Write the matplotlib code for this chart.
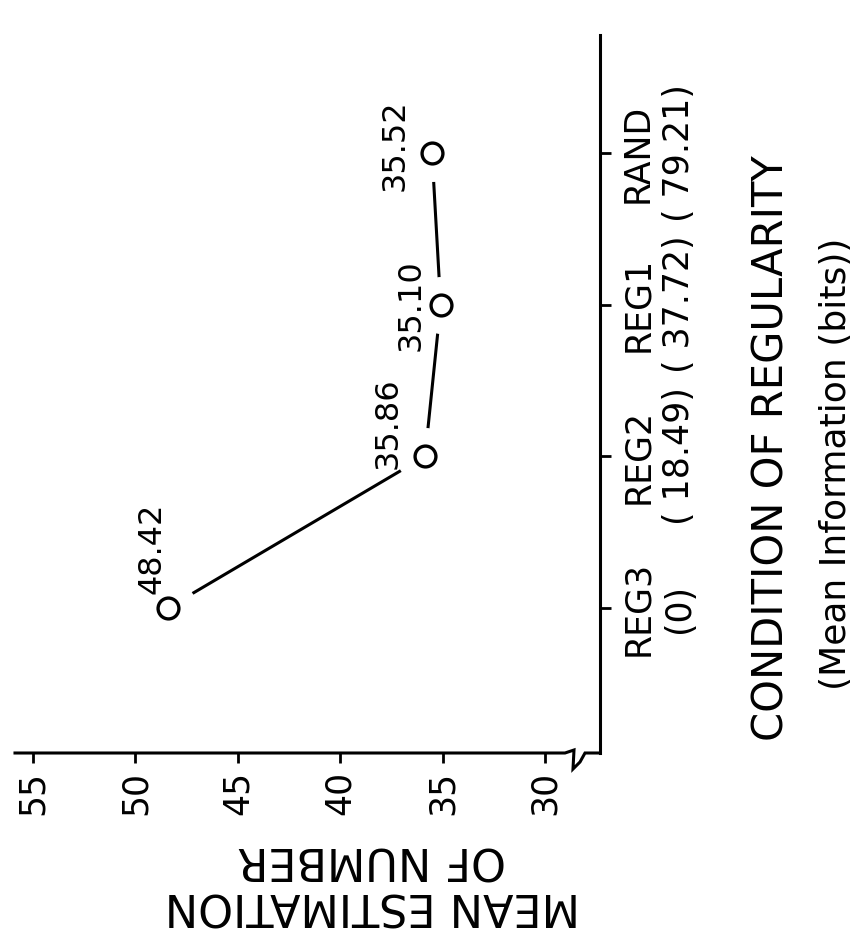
import matplotlib

matplotlib.use("Agg")

import matplotlib.pyplot as plt
import numpy as np


conditions = ["REG3", "REG2", "REG1", "RAND"]
mean_info_bits = ["0", "18.49", "37.72", "79.21"]
mean_estimation = [48.42, 35.86, 35.10, 35.52]
value_labels = ["48.42", "35.86", "35.10", "35.52"]
estimation_ticks = [55, 50, 45, 40, 35, 30]

# where each value label sits relative to its point (pixels)
label_offsets = [(-16, 60), (-37, 33), (-30, 0), (-37, 8)]

FIG_W, FIG_H = 856, 932
AX_LEFT, AX_RIGHT, AX_BOTTOM, AX_TOP = 15, 600, 753, 35


def condition_label(name: str, bits: str) -> str:
    if bits == "0":
        return f"{name}\n({bits})"
    return f"{name}\n( {bits})"


def draw_broken_axis(ax) -> None:
    # bottom axis line with the little break squiggle near the corner
    w = AX_RIGHT - AX_LEFT
    h = AX_BOTTOM - AX_TOP
    px = [0, 550, 559, 558, 565, 570, w]
    py = [0, 0, 3, -16, -9, 0, 0]
    ax.plot(np.array(px) / w, np.array(py) / h, color="black", lw=2.2,
            transform=ax.transAxes, clip_on=False, solid_joinstyle="miter")


def main() -> None:
    plt.rcParams["font.family"] = ["DejaVu Sans"]
    fig = plt.figure(figsize=(FIG_W / 100, FIG_H / 100), dpi=100)
    ax = fig.add_axes([
        AX_LEFT / FIG_W,
        (FIG_H - AX_BOTTOM) / FIG_H,
        (AX_RIGHT - AX_LEFT) / FIG_W,
        (AX_BOTTOM - AX_TOP) / FIG_H,
    ])

    y = np.arange(len(conditions))

    # connecting line, broken around each point by a white halo
    ax.plot(mean_estimation, y, color="black", lw=2.2, zorder=1)
    ax.plot(mean_estimation, y, "o", ms=40, color="white", zorder=2)
    ax.plot(mean_estimation, y, "o", ms=15, mfc="white", mec="black",
            mew=2.4, zorder=3)

    for xv, yv, txt, off in zip(mean_estimation, y, value_labels, label_offsets):
        ax.annotate(txt, (xv, yv), xytext=off, textcoords="offset pixels",
                    rotation=90, ha="center", va="center", fontsize=23,
                    zorder=4)

    ax.set_xlim(55.88, 27.32)
    ax.set_ylim(-0.956, 3.778)

    for side in ["top", "left", "bottom"]:
        ax.spines[side].set_visible(False)
    ax.spines["right"].set_linewidth(2.2)
    draw_broken_axis(ax)

    ax.set_xticks(estimation_ticks)
    ax.set_xticklabels([str(t) for t in estimation_ticks])
    ax.tick_params(axis="x", direction="out", length=7, width=2, pad=6,
                   labelsize=25, labelrotation=90)

    ax.yaxis.tick_right()
    ax.set_yticks(y)
    ax.set_yticklabels([condition_label(c, b) for c, b in zip(conditions, mean_info_bits)])
    ax.tick_params(axis="y", direction="out", length=8, width=2, pad=7,
                   labelsize=25)
    for lbl in ax.get_yticklabels():
        lbl.set_rotation(90)
        lbl.set_multialignment("center")
        lbl.set_verticalalignment("center")
        lbl.set_linespacing(1.25)

    # axis titles (the whole figure is turned a quarter turn)
    fig.text(772 / FIG_W, 1 - 448 / FIG_H, "CONDITION OF REGULARITY",
             rotation=90, ha="center", va="center", fontsize=30)
    fig.text(836 / FIG_W, 1 - 464 / FIG_H, "(Mean Information (bits))",
             rotation=90, ha="center", va="center", fontsize=26)
    fig.text(372 / FIG_W, 1 - 882 / FIG_H, "MEAN ESTIMATION\nOF NUMBER",
             rotation=180, ha="center", va="center", fontsize=32,
             multialignment="center", linespacing=1.1)

    fig.savefig("out.png", dpi=100, facecolor="white")
    plt.close(fig)


if __name__ == "__main__":
    main()
